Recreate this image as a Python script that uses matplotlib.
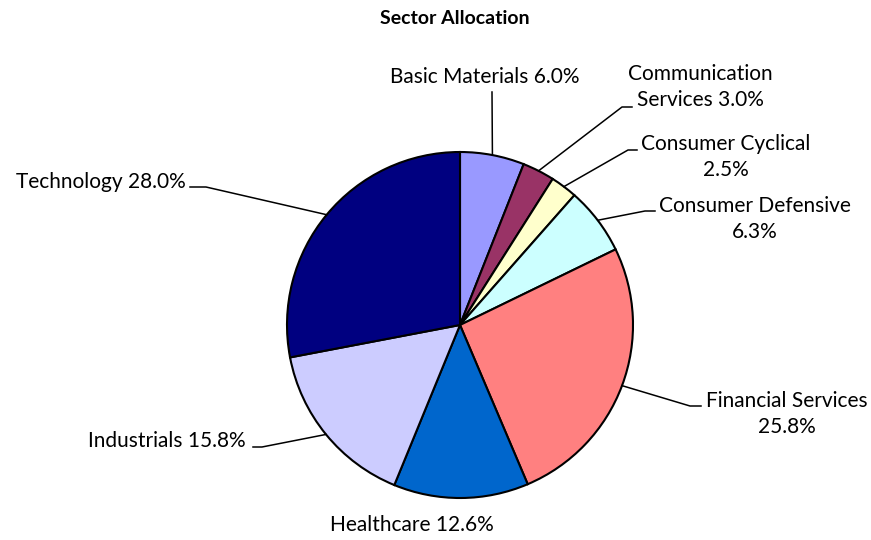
import numpy as np
import matplotlib
matplotlib.use("Agg")
import matplotlib.pyplot as plt

sectors = ["Basic Materials", "Communication\nServices", "Consumer Cyclical\n", "Consumer Defensive\n",
           "Financial Services\n", "Healthcare", "Industrials", "Technology"]
shares = [6.0, 3.0, 2.5, 6.3, 25.8, 12.6, 15.8, 28.0]
colors = ["#9999FF", "#993366", "#FFFFCC", "#CCFFFF", "#FF8080", "#0066CC", "#CCCCFF", "#000080"]

plt.rcParams["font.family"] = ["Lato", "DejaVu Sans"]

W, H = 871, 540
fig = plt.figure(figsize=(W / 100, H / 100), dpi=100)
ax = fig.add_axes([0, 0, 1, 1])

cx, cy, r = 460, H - 325, 173
ax.pie(shares, colors=colors, startangle=90, counterclock=False,
       center=(cx, cy), radius=r,
       wedgeprops=dict(edgecolor="black", linewidth=1.5))
ax.set_xlim(0, W)
ax.set_ylim(0, H)
ax.axis("off")

# label layout: (knee x, knee y, end x, text x, text y, ha)  in pixel coords from top
layout = [
    (492, 92, 492, 485, 77, "center"),
    (622, 107, 632, 700, 87, "center"),
    (628, 150, 637, 726, 157, "center"),
    (645, 211, 655, 755, 219, "center"),
    (690, 406, 701, 787, 414, "center"),
    (None, None, None, 412, 525, "center"),
    (262, 447, 253, 246, 441, "right"),
    (206, 187, 190, 186, 182, "right"),
]

cum = np.cumsum([0] + shares[:-1])
for name, v, c0, lay in zip(sectors, shares, cum, layout):
    kx, ky, ex, tx, ty, ha = lay
    ang = np.deg2rad(90 - (c0 + v / 2) * 3.6)
    px, py = cx + r * np.cos(ang), cy + r * np.sin(ang)
    if kx is not None:
        ax.plot([px, kx, ex], [py, H - ky, H - ky], color="black", lw=1.1)
    base = name.rstrip("\n")
    if name.endswith("\n"):
        txt = f"{base}\n{v:.1f}%"
    else:
        txt = f"{base} {v:.1f}%"
    ax.text(tx, H - ty, txt, ha=ha, va="center", fontsize=15,
            linespacing=1.42, color="black")

ax.text(455, H - 18, "Sector Allocation", ha="center", va="center",
        fontsize=14, fontweight="bold")

fig.savefig("out.png", dpi=100)
